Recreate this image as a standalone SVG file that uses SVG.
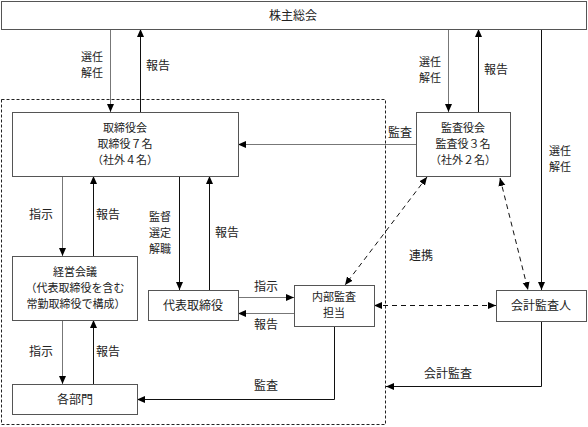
<svg xmlns="http://www.w3.org/2000/svg" width="588" height="427" viewBox="0 0 588 427">
<defs>
<marker id="ah" viewBox="0 0 8 8" refX="8" refY="4" markerWidth="8" markerHeight="8" markerUnits="userSpaceOnUse" orient="auto-start-reverse"><path d="M0,0.5 L8,4 L0,7.5 z" fill="#000"/></marker>
</defs>
<style>
.box{fill:#fff;stroke:#555;stroke-width:1}
text{font-family:"Noto Sans CJK JP","Noto Sans",sans-serif;font-size:12px;fill:#222;text-anchor:middle}
.m{font-size:11px}
.l{fill:none;stroke:#111;stroke-width:1}
.g{fill:none;stroke:#777;stroke-width:1}
.d{fill:none;stroke:#111;stroke-width:1;stroke-dasharray:5,4}
.frame{fill:none;stroke:#222;stroke-width:1;stroke-dasharray:3,2}
</style>
<rect class="frame" x="1.5" y="99.5" width="384" height="325"/>
<g id="connectors">
<line class="g" x1="110.5" y1="29" x2="110.5" y2="112" marker-end="url(#ah)"/>
<line class="l" x1="140.5" y1="112" x2="140.5" y2="29" marker-end="url(#ah)"/>
<line class="g" x1="448.5" y1="29" x2="448.5" y2="112" marker-end="url(#ah)"/>
<line class="l" x1="478.5" y1="112" x2="478.5" y2="29" marker-end="url(#ah)"/>
<line class="l" x1="541.5" y1="29" x2="541.5" y2="290" marker-end="url(#ah)"/>
<line class="g" x1="416" y1="144.5" x2="238" y2="144.5" marker-end="url(#ah)"/>
<line class="g" x1="62.5" y1="176" x2="62.5" y2="256" marker-end="url(#ah)"/>
<line class="l" x1="93.5" y1="256" x2="93.5" y2="176" marker-end="url(#ah)"/>
<line class="l" x1="179.5" y1="176" x2="179.5" y2="290" marker-end="url(#ah)"/>
<line class="l" x1="209.5" y1="290" x2="209.5" y2="176" marker-end="url(#ah)"/>
<line class="g" x1="238" y1="297.5" x2="294" y2="297.5" marker-end="url(#ah)"/>
<line class="g" x1="294" y1="313.5" x2="238" y2="313.5" marker-end="url(#ah)"/>
<line class="g" x1="62.5" y1="320" x2="62.5" y2="384" marker-end="url(#ah)"/>
<line class="l" x1="93.5" y1="384" x2="93.5" y2="320" marker-end="url(#ah)"/>
<polyline class="l" points="334.5,326 334.5,399.5 137,399.5" marker-end="url(#ah)"/>
<polyline class="l" points="541.5,321 541.5,386.5 386,386.5" marker-end="url(#ah)"/>
<line class="d" x1="374" y1="305.5" x2="496" y2="305.5" marker-start="url(#ah)" marker-end="url(#ah)"/>
<line class="d" x1="427" y1="177" x2="345" y2="285" marker-start="url(#ah)" marker-end="url(#ah)"/>
<line class="d" x1="500" y1="178" x2="528" y2="290" marker-start="url(#ah)" marker-end="url(#ah)"/>
<text class="m" x="92" y="61">選任</text>
<text class="m" x="92" y="77">解任</text>
<text x="158" y="70">報告</text>
<text class="m" x="430" y="66">選任</text>
<text class="m" x="430" y="82">解任</text>
<text x="496" y="74">報告</text>
<text class="m" x="560" y="155">選任</text>
<text class="m" x="560" y="171">解任</text>
<text x="400" y="137">監査</text>
<text x="41" y="219">指示</text>
<text x="108" y="219">報告</text>
<text class="m" x="160" y="221">監督</text>
<text class="m" x="160" y="237">選定</text>
<text class="m" x="160" y="253">解職</text>
<text x="227" y="237">報告</text>
<text x="266" y="291">指示</text>
<text x="266" y="329">報告</text>
<text x="41" y="356">指示</text>
<text x="108" y="356">報告</text>
<text x="266" y="390">監査</text>
<text x="448" y="378">会計監査</text>
<text x="421" y="260">連携</text>
</g>
<g id="kabunushi"><rect class="box" x="1.5" y="1.5" width="585" height="28"/><text x="293" y="20">株主総会</text></g>
<g id="torishimariyakukai"><rect class="box" x="12.5" y="112.5" width="226" height="64"/><text class="m" x="125" y="132">取締役会</text><text class="m" x="125" y="148">取締役７名</text><text class="m" x="125" y="164">（社外４名）</text></g>
<g id="kansayakukai"><rect class="box" x="416.5" y="112.5" width="94" height="64"/><text class="m" x="463" y="132">監査役会</text><text class="m" x="463" y="148">監査役３名</text><text class="m" x="463" y="164">（社外２名）</text></g>
<g id="keiei"><rect class="box" x="12.5" y="256.5" width="125" height="64"/><text class="m" x="75" y="276">経営会議</text><text class="m" x="75" y="292">（代表取締役を含む</text><text class="m" x="76" y="308">常勤取締役で構成）</text></g>
<g id="daihyo"><rect class="box" x="148.5" y="290.5" width="90" height="30"/><text x="193" y="310">代表取締役</text></g>
<g id="naibu"><rect class="box" x="294.5" y="285.5" width="80" height="41"/><text class="m" x="334" y="301">内部監査</text><text class="m" x="334" y="317">担当</text></g>
<g id="kaikei"><rect class="box" x="496.5" y="290.5" width="90" height="31"/><text x="541" y="310">会計監査人</text></g>
<g id="kakubumon"><rect class="box" x="12.5" y="384.5" width="125" height="30"/><text x="75" y="404">各部門</text></g>
</svg>
